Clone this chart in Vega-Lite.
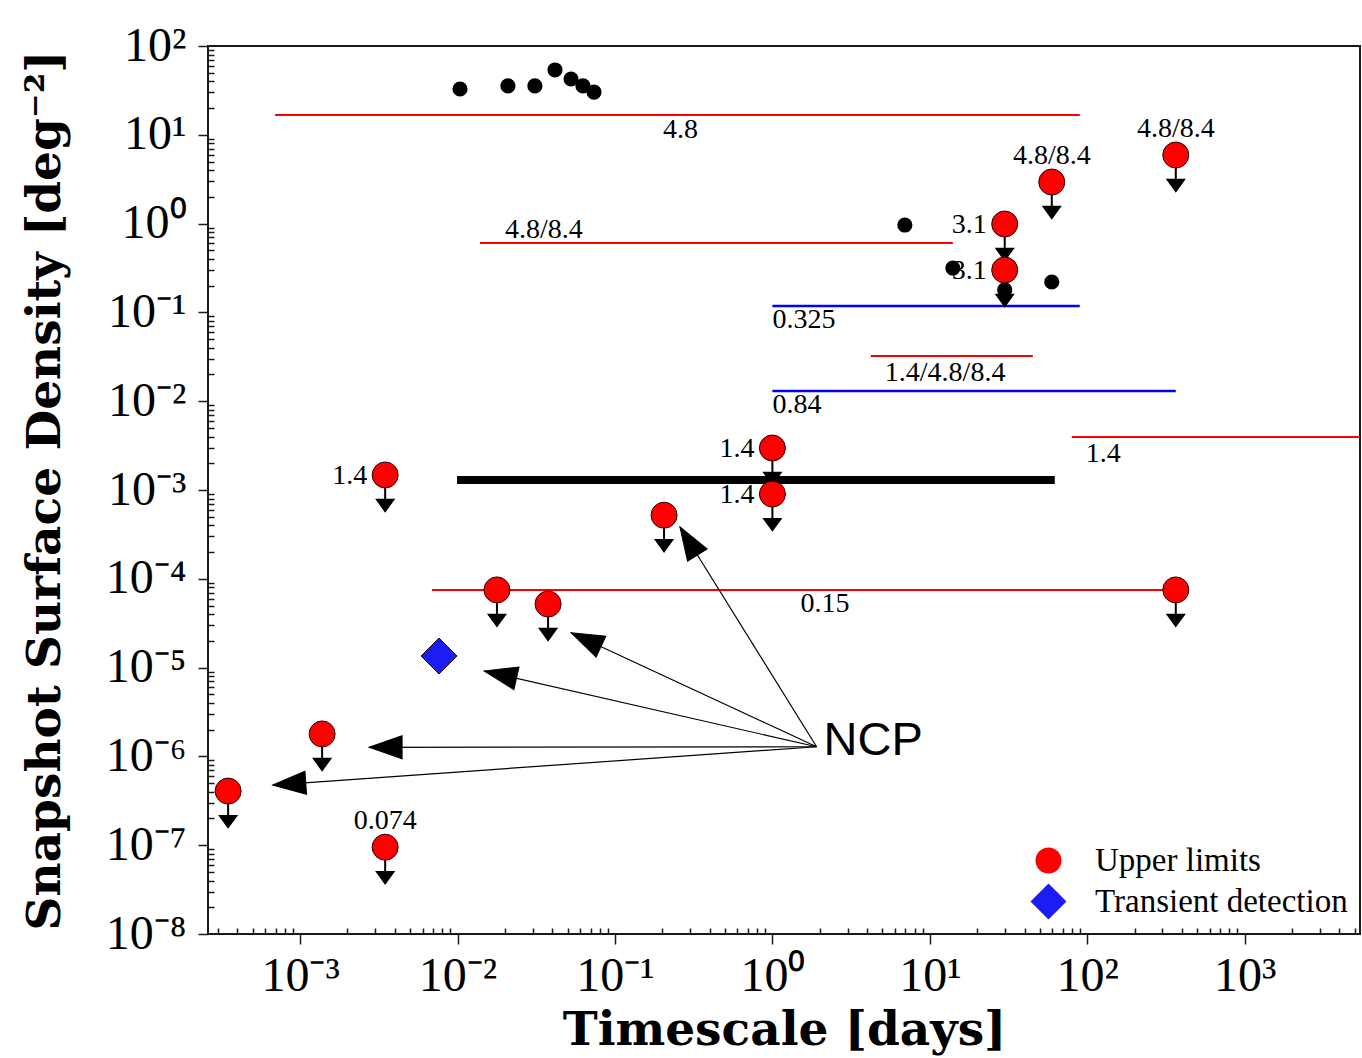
{
  "$schema": "https://vega.github.io/schema/vega-lite/v6.json",
  "width": 1152,
  "height": 888,
  "autosize": {"type": "none"},
  "padding": {"left": 208, "top": 46, "right": 2, "bottom": 124},
  "background": "white",
  "config": {
    "view": {"stroke": "#1a1a1a", "strokeWidth": 2},
    "axis": {
      "grid": false,
      "domain": false,
      "labelFont": "Liberation Serif",
      "labelFontSize": 48,
      "labelColor": "black",
      "tickColor": "#1a1a1a",
      "tickWidth": 1.5,
      "titleFont": "DejaVu Serif",
      "titleFontWeight": "bold",
      "titleFontSize": 47,
      "titleColor": "black"
    },
    "legend": {
      "orient": "bottom-right",
      "offset": 12,
      "labelFont": "Liberation Serif",
      "labelFontSize": 33,
      "labelColor": "black",
      "labelLimit": 500,
      "labelOffset": 28,
      "rowPadding": 3,
      "symbolStrokeColor": "#222",
      "symbolStrokeWidth": 1,
      "symbolOpacity": 1
    }
  },
  "datasets": {
    "redSurveys": [
      {"band": "4.8", "from": 0.000694, "to": 89.6, "density": 16.7},
      {"band": "4.8/8.4", "from": 0.0139, "to": 14.0, "density": 0.605},
      {"band": "1.4/4.8/8.4", "from": 4.22, "to": 45.1, "density": 0.0323},
      {"band": "1.4", "from": 79.7, "to": 5400, "density": 0.00395},
      {"band": "0.15", "from": 0.00689, "to": 365, "density": 0.000075}
    ],
    "blueSurveys": [
      {"band": "0.325", "from": 1, "to": 89.6, "density": 0.118},
      {"band": "0.84", "from": 1, "to": 365, "density": 0.013}
    ],
    "thickSurvey": [
      {"from": 0.00993, "to": 62.2, "density": 0.0013}
    ],
    "detections": [
      {"t": 0.01037, "density": 32.8},
      {"t": 0.0209, "density": 35.5},
      {"t": 0.031, "density": 35.5},
      {"t": 0.0416, "density": 53.7},
      {"t": 0.0526, "density": 42.5},
      {"t": 0.0626, "density": 35.5},
      {"t": 0.0736, "density": 30.3},
      {"t": 6.94, "density": 0.964},
      {"t": 14.0, "density": 0.316},
      {"t": 59.5, "density": 0.22},
      {"t": 29.9, "density": 0.179}
    ],
    "sources": [
      {"kind": "Upper limits", "t": 0.00347, "density": 0.001476, "band": "1.4"},
      {"kind": "Upper limits", "t": 1.0, "density": 0.00297, "band": "1.4"},
      {"kind": "Upper limits", "t": 1.0, "density": 0.0009, "band": "1.4"},
      {"kind": "Upper limits", "t": 0.205, "density": 0.00052, "band": ""},
      {"kind": "Upper limits", "t": 0.0178, "density": 0.000075, "band": ""},
      {"kind": "Upper limits", "t": 0.0376, "density": 0.000052, "band": ""},
      {"kind": "Upper limits", "t": 365, "density": 0.000075, "band": ""},
      {"kind": "Upper limits", "t": 0.00138, "density": 0.00000179, "band": ""},
      {"kind": "Upper limits", "t": 0.000349, "density": 0.000000407, "band": ""},
      {"kind": "Upper limits", "t": 0.00347, "density": 0.000000095, "band": "0.074"},
      {"kind": "Upper limits", "t": 29.9, "density": 0.99, "band": "3.1"},
      {"kind": "Upper limits", "t": 29.9, "density": 0.30, "band": "3.1"},
      {"kind": "Upper limits", "t": 59.5, "density": 2.94, "band": "4.8/8.4"},
      {"kind": "Upper limits", "t": 365, "density": 5.92, "band": "4.8/8.4"},
      {"kind": "Transient detection", "t": 0.00763, "density": 0.0000135, "band": ""}
    ],
    "ncp": [
      {"fromT": 1.908, "fromD": 0.000001285, "tipT": 0.2587, "tipD": 0.000383},
      {"fromT": 1.908, "fromD": 0.000001285, "tipT": 0.0526, "tipD": 0.0000247},
      {"fromT": 1.908, "fromD": 0.000001285, "tipT": 0.01479, "tipD": 0.00000916},
      {"fromT": 1.908, "fromD": 0.000001285, "tipT": 0.002742, "tipD": 0.000001265},
      {"fromT": 1.908, "fromD": 0.000001285, "tipT": 0.000671, "tipD": 0.000000476}
    ]
  },
  "resolve": {"axis": {"x": "independent", "y": "independent"}},
  "layer": [
    {
      "data": {"name": "detections"},
      "mark": {"type": "point", "opacity": 0},
      "encoding": {
        "x": {
          "field": "t", "type": "quantitative",
          "scale": {"type": "log", "domain": [0.00026, 5400], "nice": false},
          "axis": {
            "orient": "bottom", "labels": false, "title": null, "tickSize": -6,
            "values": [0.0003, 0.0004, 0.0005, 0.0006, 0.0007, 0.0008, 0.0009,
              0.002, 0.003, 0.004, 0.005, 0.006, 0.007, 0.008, 0.009,
              0.02, 0.03, 0.04, 0.05, 0.06, 0.07, 0.08, 0.09,
              0.2, 0.3, 0.4, 0.5, 0.6, 0.7, 0.8, 0.9,
              2, 3, 4, 5, 6, 7, 8, 9,
              20, 30, 40, 50, 60, 70, 80, 90,
              200, 300, 400, 500, 600, 700, 800, 900,
              2000, 3000, 4000, 5000]
          }
        },
        "y": {
          "field": "density", "type": "quantitative",
          "scale": {"type": "log", "domain": [1e-8, 100], "nice": false},
          "axis": {
            "orient": "left", "labels": false, "title": null, "tickSize": -6,
            "values": [2e-8, 3e-8, 4e-8, 5e-8, 6e-8, 7e-8, 8e-8, 9e-8,
              2e-7, 3e-7, 4e-7, 5e-7, 6e-7, 7e-7, 8e-7, 9e-7,
              2e-6, 3e-6, 4e-6, 5e-6, 6e-6, 7e-6, 8e-6, 9e-6,
              2e-5, 3e-5, 4e-5, 5e-5, 6e-5, 7e-5, 8e-5, 9e-5,
              0.0002, 0.0003, 0.0004, 0.0005, 0.0006, 0.0007, 0.0008, 0.0009,
              0.002, 0.003, 0.004, 0.005, 0.006, 0.007, 0.008, 0.009,
              0.02, 0.03, 0.04, 0.05, 0.06, 0.07, 0.08, 0.09,
              0.2, 0.3, 0.4, 0.5, 0.6, 0.7, 0.8, 0.9,
              2, 3, 4, 5, 6, 7, 8, 9,
              20, 30, 40, 50, 60, 70, 80, 90]
          }
        }
      }
    },
    {
      "data": {"name": "redSurveys"},
      "mark": {"type": "rule", "color": "#ff0000", "strokeWidth": 2, "clip": true},
      "encoding": {
        "x": {
          "field": "from", "type": "quantitative",
          "scale": {"type": "log", "domain": [0.00026, 5400], "nice": false},
          "axis": {
            "orient": "bottom", "title": "Timescale [days]", "tickSize": 10,
            "labelPadding": 8, "titlePadding": 7,
            "values": [0.001, 0.01, 0.1, 1, 10, 100, 1000],
            "labelExpr": "'10' + (datum.value < 1 ? '⁻' : '') + ['⁰','¹','²','³','⁴','⁵','⁶','⁷','⁸','⁹'][abs(round(log(datum.value) / LN10))]"
          }
        },
        "x2": {"field": "to"},
        "y": {
          "field": "density", "type": "quantitative",
          "scale": {"type": "log", "domain": [1e-8, 100], "nice": false},
          "axis": {
            "orient": "left", "title": "Snapshot Surface Density [deg⁻²]", "tickSize": 10,
            "labelPadding": 12, "titlePadding": 36,
            "values": [1e-8, 1e-7, 1e-6, 1e-5, 0.0001, 0.001, 0.01, 0.1, 1, 10, 100],
            "labelExpr": "'10' + (datum.value < 1 ? '⁻' : '') + ['⁰','¹','²','³','⁴','⁵','⁶','⁷','⁸','⁹'][abs(round(log(datum.value) / LN10))]"
          }
        }
      }
    },
    {
      "data": {"name": "blueSurveys"},
      "mark": {"type": "rule", "color": "#0000ff", "strokeWidth": 2.5, "clip": true},
      "encoding": {
        "x": {"field": "from", "type": "quantitative", "axis": null},
        "x2": {"field": "to"},
        "y": {"field": "density", "type": "quantitative", "axis": null}
      }
    },
    {
      "data": {"name": "thickSurvey"},
      "mark": {"type": "rule", "color": "black", "strokeWidth": 8, "clip": true},
      "encoding": {
        "x": {"field": "from", "type": "quantitative", "axis": null},
        "x2": {"field": "to"},
        "y": {"field": "density", "type": "quantitative", "axis": null}
      }
    },
    {
      "data": {"name": "detections"},
      "mark": {"type": "point", "shape": "circle", "filled": true, "color": "black", "size": 230, "opacity": 1},
      "encoding": {
        "x": {"field": "t", "type": "quantitative", "axis": null},
        "y": {"field": "density", "type": "quantitative", "axis": null}
      }
    },
    {
      "data": {"name": "sources"},
      "transform": [{"filter": "datum.kind === 'Upper limits'"}],
      "mark": {
        "type": "point",
        "shape": "M0,0.7L0,1.5M-0.45,1.38L0.45,1.38L0,2Z",
        "size": 1296, "filled": true, "fill": "black", "stroke": "black", "strokeWidth": 2, "opacity": 1
      },
      "encoding": {
        "x": {"field": "t", "type": "quantitative", "axis": null},
        "y": {"field": "density", "type": "quantitative", "axis": null}
      }
    },
    {
      "data": {"name": "sources"},
      "mark": {"type": "point", "filled": true, "stroke": "#2a0000", "strokeWidth": 1, "opacity": 1},
      "encoding": {
        "x": {"field": "t", "type": "quantitative", "axis": null},
        "y": {"field": "density", "type": "quantitative", "axis": null},
        "fill": {
          "field": "kind", "type": "nominal",
          "scale": {"domain": ["Upper limits", "Transient detection"], "range": ["#ff0000", "#1c1cf5"]},
          "legend": {"title": null}
        },
        "shape": {
          "field": "kind", "type": "nominal",
          "scale": {"domain": ["Upper limits", "Transient detection"], "range": ["circle", "diamond"]},
          "legend": {"title": null}
        },
        "size": {
          "field": "kind", "type": "nominal",
          "scale": {"domain": ["Upper limits", "Transient detection"], "range": [676, 1296]},
          "legend": {"title": null}
        }
      }
    },
    {
      "data": {"name": "sources"},
      "transform": [{"filter": "datum.band === '1.4' || datum.band === '3.1'"}],
      "mark": {"type": "text", "font": "Liberation Serif", "fontSize": 28, "color": "black", "align": "right", "baseline": "middle", "dx": -18, "dy": 1},
      "encoding": {
        "x": {"field": "t", "type": "quantitative", "axis": null},
        "y": {"field": "density", "type": "quantitative", "axis": null},
        "text": {"field": "band"}
      }
    },
    {
      "data": {"name": "sources"},
      "transform": [{"filter": "datum.band === '4.8/8.4' || datum.band === '0.074'"}],
      "mark": {"type": "text", "font": "Liberation Serif", "fontSize": 28, "color": "black", "align": "center", "baseline": "alphabetic", "dy": -18},
      "encoding": {
        "x": {"field": "t", "type": "quantitative", "axis": null},
        "y": {"field": "density", "type": "quantitative", "axis": null},
        "text": {"field": "band"}
      }
    },
    {
      "data": {"name": "redSurveys"},
      "transform": [
        {"filter": "datum.band === '4.8'"},
        {"calculate": "sqrt(datum.from * datum.to)", "as": "middle"}
      ],
      "mark": {"type": "text", "font": "Liberation Serif", "fontSize": 28, "color": "black", "align": "center", "baseline": "alphabetic", "dx": 3, "dy": 23},
      "encoding": {
        "x": {"field": "middle", "type": "quantitative", "axis": null},
        "y": {"field": "density", "type": "quantitative", "axis": null},
        "text": {"field": "band"}
      }
    },
    {
      "data": {"name": "redSurveys"},
      "transform": [
        {"filter": "datum.band === '0.15'"},
        {"calculate": "sqrt(datum.from * datum.to)", "as": "middle"}
      ],
      "mark": {"type": "text", "font": "Liberation Serif", "fontSize": 28, "color": "black", "align": "center", "baseline": "alphabetic", "dx": 21, "dy": 22},
      "encoding": {
        "x": {"field": "middle", "type": "quantitative", "axis": null},
        "y": {"field": "density", "type": "quantitative", "axis": null},
        "text": {"field": "band"}
      }
    },
    {
      "data": {"name": "redSurveys"},
      "transform": [{"filter": "datum.band === '4.8/8.4'"}],
      "mark": {"type": "text", "font": "Liberation Serif", "fontSize": 28, "color": "black", "align": "left", "baseline": "alphabetic", "dx": 25, "dy": -5},
      "encoding": {
        "x": {"field": "from", "type": "quantitative", "axis": null},
        "y": {"field": "density", "type": "quantitative", "axis": null},
        "text": {"field": "band"}
      }
    },
    {
      "data": {"name": "redSurveys"},
      "transform": [{"filter": "datum.band === '1.4/4.8/8.4' || datum.band === '1.4'"}],
      "mark": {"type": "text", "font": "Liberation Serif", "fontSize": 28, "color": "black", "align": "left", "baseline": "alphabetic", "dx": 14, "dy": 25},
      "encoding": {
        "x": {"field": "from", "type": "quantitative", "axis": null},
        "y": {"field": "density", "type": "quantitative", "axis": null},
        "text": {"field": "band"}
      }
    },
    {
      "data": {"name": "blueSurveys"},
      "mark": {"type": "text", "font": "Liberation Serif", "fontSize": 28, "color": "black", "align": "left", "baseline": "alphabetic", "dx": 0, "dy": 22},
      "encoding": {
        "x": {"field": "from", "type": "quantitative", "axis": null},
        "y": {"field": "density", "type": "quantitative", "axis": null},
        "text": {"field": "band"}
      }
    },
    {
      "data": {"name": "ncp"},
      "mark": {"type": "rule", "color": "black", "strokeWidth": 1.2},
      "encoding": {
        "x": {"field": "fromT", "type": "quantitative", "axis": null},
        "y": {"field": "fromD", "type": "quantitative", "axis": null},
        "x2": {"field": "tipT"},
        "y2": {"field": "tipD"}
      }
    },
    {
      "data": {"name": "ncp"},
      "transform": [
        {"calculate": "atan2((log(datum.tipD) - log(datum.fromD)) * 88.8, (log(datum.fromT) - log(datum.tipT)) * 157.43) * 180 / PI", "as": "heading"}
      ],
      "mark": {"type": "point", "shape": "M0,0L2,-0.7L2,0.7Z", "size": 1089, "filled": true, "fill": "black", "stroke": "black", "strokeWidth": 1, "opacity": 1},
      "encoding": {
        "x": {"field": "tipT", "type": "quantitative", "axis": null},
        "y": {"field": "tipD", "type": "quantitative", "axis": null},
        "angle": {"field": "heading", "type": "quantitative", "scale": null}
      }
    },
    {
      "data": {"values": [{"t": 1.908, "density": 0.000001285, "name": "NCP"}]},
      "mark": {"type": "text", "font": "Liberation Sans", "fontSize": 47, "color": "black", "align": "left", "baseline": "middle", "dx": 7, "dy": -6},
      "encoding": {
        "x": {"field": "t", "type": "quantitative", "axis": null},
        "y": {"field": "density", "type": "quantitative", "axis": null},
        "text": {"field": "name"}
      }
    }
  ]
}
